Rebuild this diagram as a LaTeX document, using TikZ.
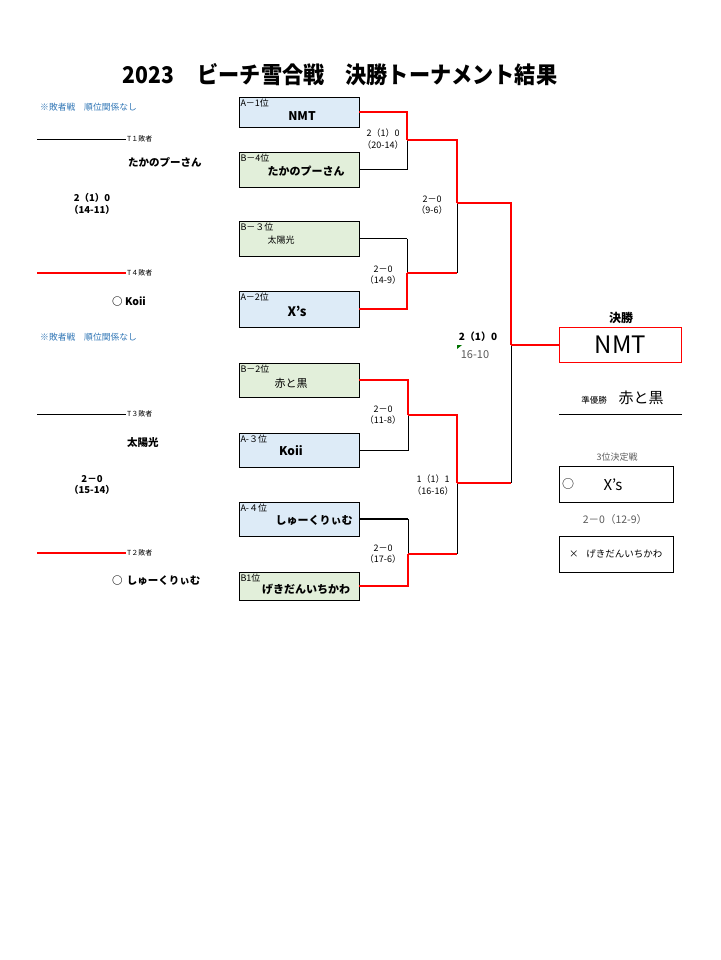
\documentclass[tikz,border=0pt]{standalone}
\usepackage{fontspec}
\setmainfont{Noto Sans CJK JP}
\usetikzlibrary{positioning}
\definecolor{boxA}{RGB}{221,235,247}
\definecolor{boxB}{RGB}{226,239,218}
\definecolor{noteblue}{RGB}{47,117,181}
\definecolor{winred}{RGB}{255,0,0}
\definecolor{softgray}{RGB}{90,90,90}
\newcommand{\fsz}[1]{\fontsize{#1}{1.25\dimexpr#1pt\relax}\selectfont}
\tikzset{%
	teamA/.style    = {draw, fill=boxA, minimum width=120pt, minimum height=#1, inner sep=0pt}, % A group
	teamB/.style    = {draw, fill=boxB, minimum width=120pt, minimum height=#1, inner sep=0pt}, % B group
	rank/.style     = {anchor=north west, inner sep=1.5pt, font=\fsz{9}},
	team/.style     = {inner sep=0pt, font=\fsz{11}\bfseries},
	score/.style    = {align=center, inner sep=0pt, font=\fsz{9}},
	note/.style     = {anchor=west, inner sep=0pt, text=noteblue, font=\fsz{8.8}},
	tlabel/.style   = {anchor=west, inner sep=1pt, font=\fsz{7}},
	side/.style     = {anchor=west, inner sep=0pt, font=\fsz{10.5}\bfseries},
}
\tikzset{%
	win/.style      = {draw=winred, line width=1.8pt},
	lose/.style     = {draw=black, line width=0.8pt},
	losebold/.style = {draw=black, line width=1.6pt},
}

\begin{document}
\begin{tikzpicture}[x=1pt,y=-1pt]
		\useasboundingbox (0,0) rectangle (720,960);
		\node[font=\fsz{23}\bfseries] (title) at (340,75) {\scalebox{0.92}[1]{2023\hspace{1.1em}ビーチ雪合戦\hspace{1em}決勝トーナメント結果}};
		
		% bracket boxes
		\node[teamA=30pt] (A1) at (299,112) {};
		\node[teamB=35pt] (B4) at (299,169.5) {};
		\node[teamB=35pt] (B3) at (299,238.5) {};
		\node[teamA=36pt] (A2) at (299,309) {};
		\node[teamB=34pt] (B2) at (299,380) {};
		\node[teamA=34pt] (A3) at (299,450) {};
		\node[teamA=34pt] (A4) at (299,519) {};
		\node[teamB=28pt] (B1) at (299,586) {};
		
		\node[rank] at (A1.north west) {A－1位};
		\node[rank] at (B4.north west) {B－4位};
		\node[rank] at (B3.north west) {B－３位};
		\node[rank] at (A2.north west) {A－2位};
		\node[rank] at (B2.north west) {B－2位};
		\node[rank] at (A3.north west) {A-３位};
		\node[rank] at (A4.north west) {A-４位};
		\node[rank] at (B1.north west) {B1位};
		
		\node[team,font=\fsz{12}\bfseries] (nA1) at (302,116) {NMT};
		\node[team] (nB4) at (306,171) {たかのプーさん};
		\node[team,font=\fsz{9}] (nB3) at (281,240) {太陽光};
		\node[team,font=\fsz{13}\bfseries] (nA2) at (297,311) {X's};
		\node[team,font=\fsz{11}] (nB2) at (291,383) {赤と黒};
		\node[team,font=\fsz{12}\bfseries] (nA3) at (291,451) {Koii};
		\node[team] (nA4) at (314,520) {しゅーくりぃむ};
		\node[team] (nB1) at (306,589) {げきだんいちかわ};
		
		% joints of the bracket
		\coordinate (m1) at (407,140);
		\coordinate (m2) at (407,273);
		\coordinate (m3) at (408,415);
		\coordinate (m4) at (408,554);
		\coordinate (s1) at (457,203);
		\coordinate (s2) at (457,483);
		\coordinate (f) at (511,345);
		
		\draw[win] (A1.east) -| (m1);
		\draw[lose] (B4.east) -| (m1);
		\draw[losebold] (B3.east) -- (B3.east -| m2);
		\draw[lose] (B3.east -| m2) -- (m2);
		\draw[win] (A2.east) -| (m2);
		\draw[win] (m1) -| (s1);
		\draw[win] (m2) -- (m2 -| s1);
		\draw[lose] (m2 -| s1) -- (s1);
		\draw[win] (B2.east) -| (m3);
		\draw[lose] (A3.east) -| (m3);
		\draw[losebold] (A4.east) -- (A4.east -| m4);
		\draw[lose] (A4.east -| m4) -- (m4);
		\draw[win] (B1.east) -| (m4);
		\draw[win] (m3) -| (s2);
		\draw[win] (m4) -- (m4 -| s2);
		\draw[lose] (m4 -| s2) -- (s2);
		\draw[win] (s1) -| (f);
		\draw[win] (s2) -- (s2 -| f);
		\draw[lose] (s2 -| f) -- (f);
		
		\node[score] at (383,139) {2（1）0\\（20-14）};
		\node[score] at (432,205) {2－0\\（9-6）};
		\node[score] at (383,275) {2－0\\（14-9）};
		\node[score] at (383,415) {2－0\\（11-8）};
		\node[score] at (433,485) {1（1）1\\（16-16）};
		\node[score] at (383,554) {2－0\\（17-6）};
		\node[score,font=\fsz{10}\bfseries] at (478,337) {2（1）0};
		\node[score,font=\fsz{11},text=softgray] at (475,355) {16-10};
		\fill[green!45!black] (457,345) -- (462,345) -- (457,349) -- cycle;
		
		% final and places
		\node[draw=winred, line width=1.8pt, minimum width=122pt, minimum height=35pt, font=\fsz{24}] (final) at (620.5,345) {NMT};
		\draw[win] (f) -- (final.west);
		\node[font=\fsz{12}\bfseries, inner sep=0pt] (kessho) at (621,318) {決勝};
		\node[font=\fsz{8.5}, inner sep=0pt] (runlabel) at (594,400) {準優勝};
		\node[font=\fsz{15}, inner sep=0pt] (runner) at (641,398) {赤と黒};
		\draw[lose] (559,414) -- (682,414);
		\node[font=\fsz{9}, text=softgray, inner sep=0pt] (thirdlabel) at (617,457) {3位決定戦};
		\node[draw, line width=0.8pt, minimum width=114pt, minimum height=36pt] (third) at (616,484) {};
		\node[font=\fsz{12}, anchor=west, inner sep=0pt] (tmark) at (562,484) {○};
		\node[font=\fsz{15}, inner sep=0pt] (tname) at (613,485) {X’s};
		\node[font=\fsz{10.5}, text=softgray, inner sep=0pt] (thirdscore) at (615,520) {2－0（12-9）};
		\node[draw, line width=0.8pt, minimum width=114pt, minimum height=36pt] (fourth) at (616,554) {};
		\node[font=\fsz{9.5}, anchor=west, inner sep=0pt] (fname) at (569,554) {×\hspace{0.8em}げきだんいちかわ};
		
		% consolation side
		\node[note] (note1) at (40,107) {※敗者戦\hspace{1em}順位関係なし};
		\node[tlabel] (t1) at (126,139) {T１敗者};
		\coordinate (t1s) at (37,139);
		\draw[lose] (t1s) -- (t1.west);
		\node[side,font=\fsz{10.5}\bfseries] (l1) at (128,162) {たかのプーさん};
		\node[score,font=\fsz{9.5}\bfseries] at (92,204) {2（1）0\\（14-11）};
		\node[tlabel] (t4) at (126,273) {T４敗者};
		\coordinate (t4s) at (37,273);
		\draw[win] (t4s) -- (t4.west);
		\node[side] (w1) at (112,302) {○ Koii};
		
		\node[note] (note2) at (40,337) {※敗者戦\hspace{1em}順位関係なし};
		\node[tlabel] (t3) at (126,414) {T３敗者};
		\coordinate (t3s) at (37,414);
		\draw[lose] (t3s) -- (t3.west);
		\node[side] (l2) at (127,443) {太陽光};
		\node[score,font=\fsz{9.5}\bfseries] at (92,485) {2－0\\（15-14）};
		\node[tlabel] (t2) at (126,553) {T２敗者};
		\coordinate (t2s) at (37,553);
		\draw[win] (t2s) -- (t2.west);
		\node[side] (w2) at (112,581) {○\hspace{0.4em}しゅーくりぃむ};
\end{tikzpicture}
\end{document}
